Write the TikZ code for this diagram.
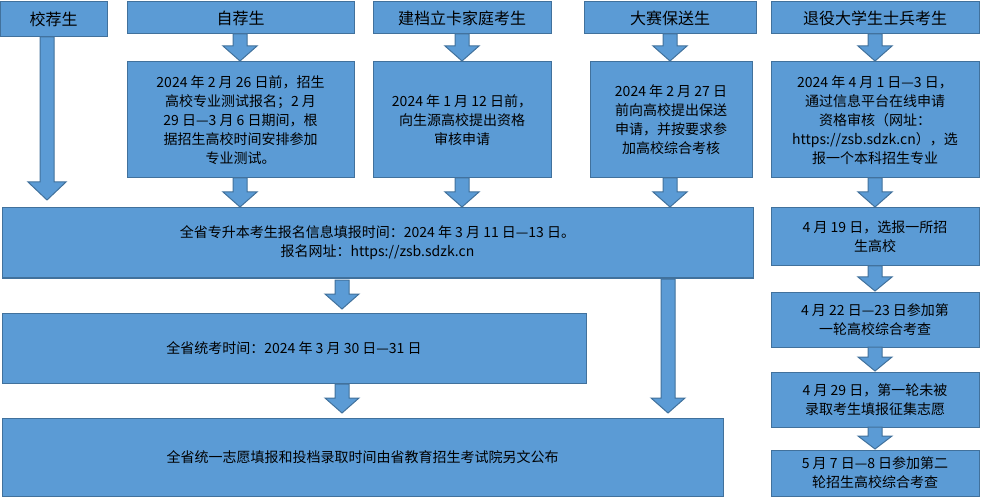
\documentclass[tikz,border=0pt]{standalone}
\usepackage{fontspec}
\setmainfont{Noto Sans CJK SC}
\begin{document}
\begin{tikzpicture}[x=1pt,y=-1pt,
  box/.style={draw=blue!20!black!60!cyan!60!black, line width=1pt, fill=boxfill, inner sep=0pt, align=center, font=\fontsize{14}{19}\selectfont},
  barrow/.style={draw=boxline, line width=1pt, fill=boxfill}]
\definecolor{boxfill}{HTML}{5B9BD5}
\definecolor{boxline}{HTML}{41719C}
\tikzset{box/.append style={draw=boxline}}
\useasboundingbox (0,0) rectangle (981,502);
\newcommand{\mkbox}[6]{\node[box, minimum width={#4-#2}, minimum height={#5-#3}] (#1) at ({(#2+#4)/2},{(#3+#5)/2}) {#6};}
\newcommand{\barr}[4]{\draw[barrow] ({#1-7},#2) -- ({#1+7},#2) -- ({#1+7},{#3-#4}) -- ({#1+17},{#3-#4}) -- (#1,#3) -- ({#1-17},{#3-#4}) -- ({#1-7},{#3-#4}) -- cycle;}
\mkbox{a}{0}{2}{107}{37}{\fontsize{16}{19}\selectfont 校荐生}
\mkbox{b}{127}{2}{354}{34}{\fontsize{16}{19}\selectfont 自荐生}
\mkbox{c}{373}{2}{551}{34}{\fontsize{16}{19}\selectfont 建档立卡家庭考生}
\mkbox{d}{584}{2}{756}{34}{\fontsize{16}{19}\selectfont 大赛保送生}
\mkbox{e}{771}{2}{979}{34}{\fontsize{16}{19}\selectfont 退役大学生士兵考生}
\mkbox{b2}{127}{62}{354}{178}{2024 年 2 月 26 日前，招生\\高校专业测试报名；2 月\\29 日—3 月 6 日期间，根\\据招生高校时间安排参加\\专业测试。}
\mkbox{c2}{373}{62}{551}{178}{2024 年 1 月 12 日前，\\向生源高校提出资格\\审核申请}
\mkbox{d2}{590}{62}{752}{178}{2024 年 2 月 27 日\\前向高校提出保送\\申请，并按要求参\\加高校综合考核}
\mkbox{e2}{771}{62}{979}{178}{2024 年 4 月 1 日—3 日，\\通过信息平台在线申请\\资格审核（网址：\\https://zsb.sdzk.cn），选\\报一个本科招生专业}
\mkbox{f}{2}{208}{753}{278}{全省专升本考生报名信息填报时间：2024 年 3 月 11 日—13 日。\\报名网址：https://zsb.sdzk.cn}
\mkbox{g}{2}{313}{586}{383}{全省统考时间：2024 年 3 月 30 日—31 日}
\mkbox{h}{2}{418}{723}{496}{全省统一志愿填报和投档录取时间由省教育招生考试院另文公布}
\mkbox{r1}{771}{208}{979}{266}{4 月 19 日，选报一所招\\生高校}
\mkbox{r2}{771}{292}{979}{347}{4 月 22 日—23 日参加第\\一轮高校综合考查}
\mkbox{r3}{771}{372}{979}{427}{4 月 29 日，第一轮未被\\录取考生填报征集志愿}
\mkbox{r4}{771}{450}{979}{496}{5 月 7 日—8 日参加第二\\轮招生高校综合考查}
\draw[barrow] (40,37) -- (54,37) -- (54,182) -- (66,182) -- (47,200) -- (28,182) -- (40,182) -- cycle;
\barr{240}{34}{61}{15}
\barr{462}{34}{61}{15}
\barr{670}{34}{61}{15}
\barr{875}{34}{61}{15}
\barr{240}{178}{207}{15}
\barr{462}{178}{207}{15}
\barr{670}{178}{207}{15}
\barr{875}{178}{207}{15}
\barr{875}{266}{291}{14}
\barr{875}{347}{371}{14}
\barr{875}{427}{449}{13}
\barr{342}{280}{309}{15}
\barr{342}{384}{413}{15}
\barr{668}{279}{413}{15}
\end{tikzpicture}
\end{document}
